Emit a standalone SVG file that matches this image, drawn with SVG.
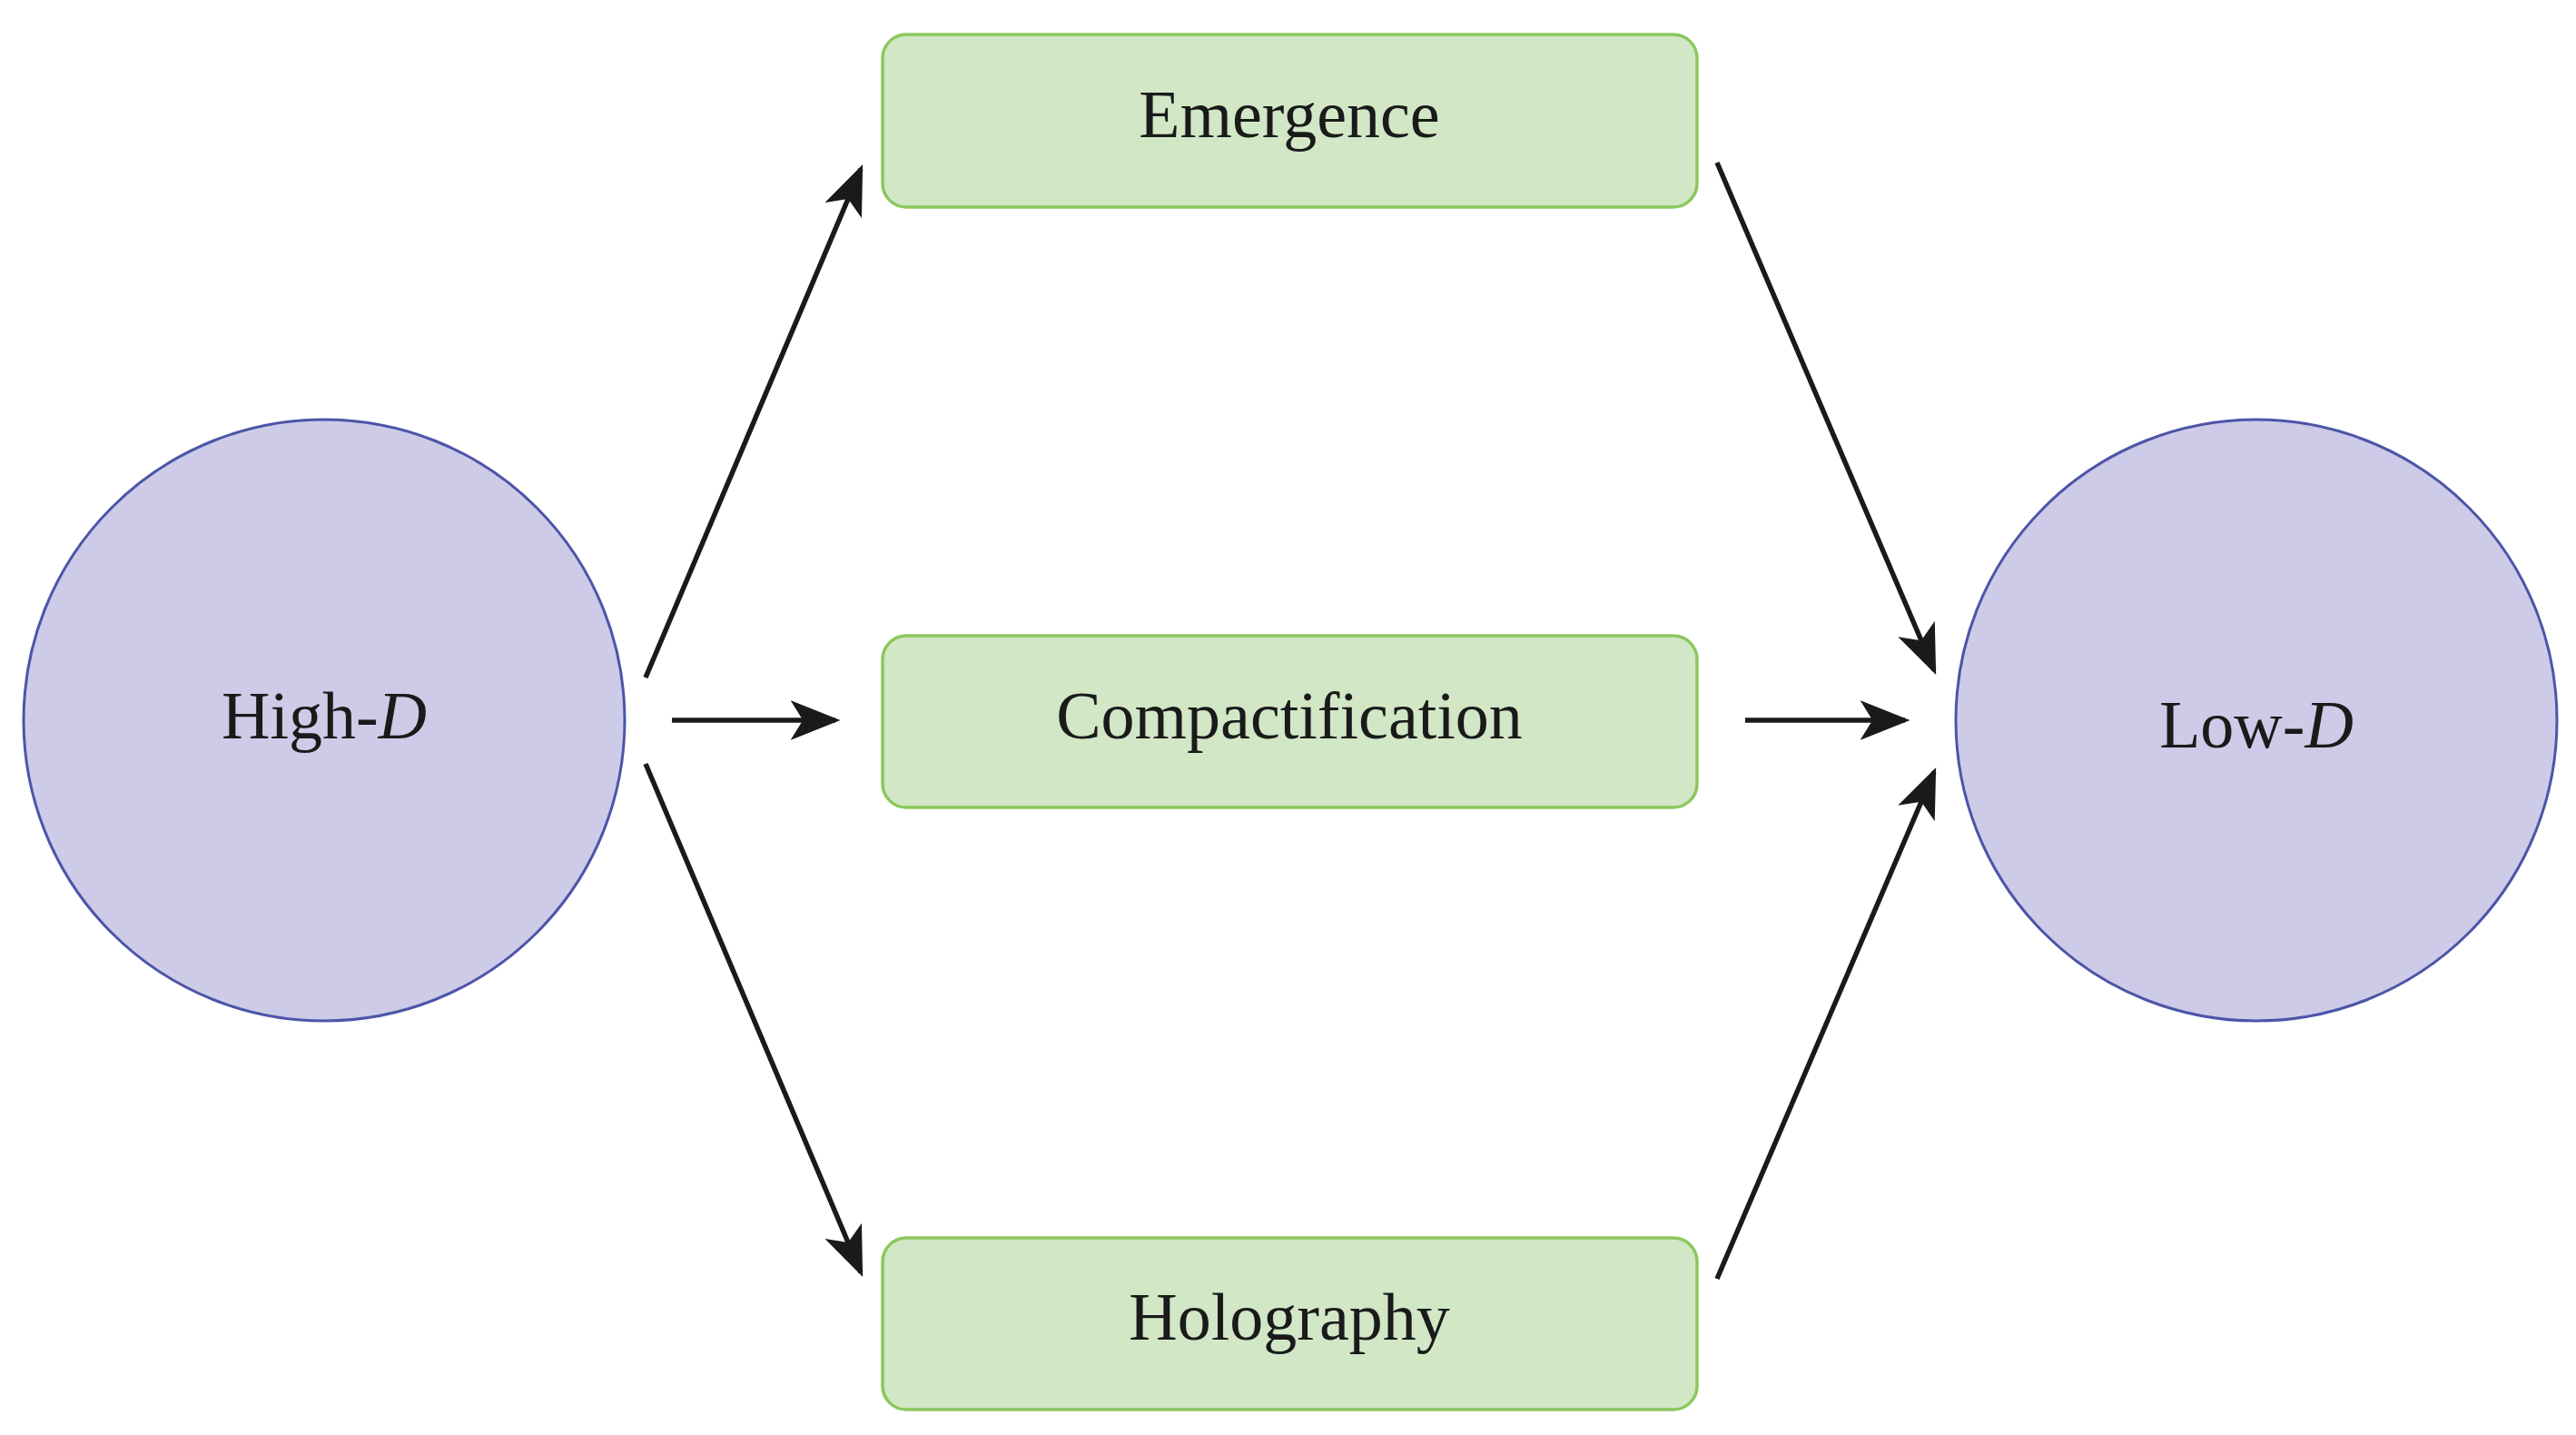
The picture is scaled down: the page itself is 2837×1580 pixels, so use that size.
<svg xmlns="http://www.w3.org/2000/svg" width="2837" height="1580" viewBox="0 0 2837 1580">
<style>
.c{fill:#cdcbe7;stroke:#4c55a8;stroke-width:3}
.b{fill:#d1e7c5;stroke:#8cc75c;stroke-width:3.5}
.t{font-family:"Liberation Serif",serif;font-size:74px;fill:#1a1a1a;text-anchor:middle;dominant-baseline:central}
.e{stroke:#1a1a1a;stroke-width:5.5;fill:none;marker-end:url(#ah)}
</style>
<defs><marker id="ah" markerWidth="10" markerHeight="8" refX="9" refY="4" orient="auto" markerUnits="strokeWidth"><path d="M0,0 L10,4 L0,8 L2.5,4 Z" fill="#1a1a1a"/></marker></defs>
<rect width="2837" height="1580" fill="#fff"/>
<g id="highD"><circle class="c" cx="357" cy="793" r="331"/><text class="t" x="357" y="788">High-<tspan font-style="italic">D</tspan></text></g>
<g id="lowD"><circle class="c" cx="2485" cy="793" r="331"/><text class="t" x="2485" y="798">Low-<tspan font-style="italic">D</tspan></text></g>
<g id="emergence"><rect class="b" x="972" y="38" width="897" height="190" rx="26"/><text class="t" x="1420" y="126">Emergence</text></g>
<g id="compactification"><rect class="b" x="972" y="700" width="897" height="189" rx="26"/><text class="t" x="1420" y="788">Compactification</text></g>
<g id="holography"><rect class="b" x="972" y="1363" width="897" height="189" rx="26"/><text class="t" x="1420" y="1450">Holography</text></g>
<g id="connectors">
<line class="e" x1="711" y1="746" x2="948" y2="186"/>
<line class="e" x1="740" y1="793" x2="920" y2="793"/>
<line class="e" x1="711" y1="841" x2="948" y2="1401"/>
<line class="e" x1="1891" y1="179" x2="2130" y2="738"/>
<line class="e" x1="1922" y1="793" x2="2098" y2="793"/>
<line class="e" x1="1891" y1="1408" x2="2130" y2="850"/>
</g>
</svg>
